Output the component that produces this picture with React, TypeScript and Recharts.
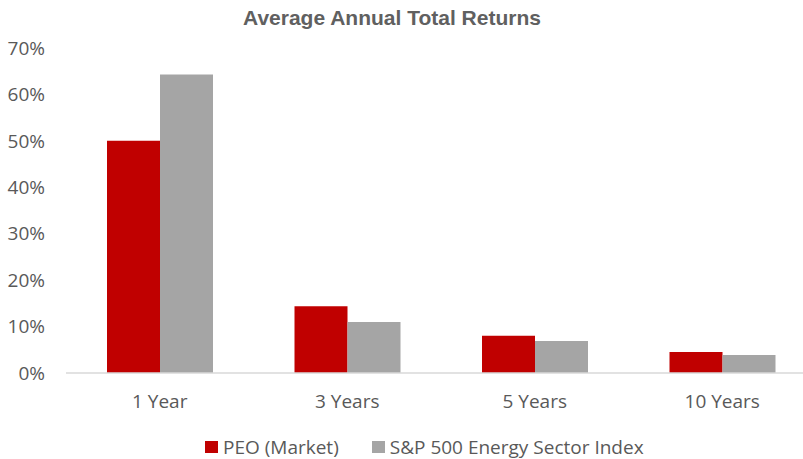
import React from "react";
import { BarChart, Bar, XAxis, YAxis, Legend } from "recharts";

const periods = ["1 Year", "3 Years", "5 Years", "10 Years"];
const peoMarket = [50.0, 14.4, 8.0, 4.5];
const spEnergy = [64.3, 11.0, 6.9, 3.9];
const yTicks = [0, 10, 20, 30, 40, 50, 60, 70];

const RED = "#C00000";
const GRAY = "#A5A5A5";
const TEXT = "#595959";
const FONT = "'Open Sans', 'Noto Sans', sans-serif";

const data = periods.map((p, i) => ({
  period: p,
  peo: peoMarket[i],
  sp: spEnergy[i],
}));

const legendItems = [
  { label: "PEO (Market)", color: RED },
  { label: "S&P 500 Energy Sector Index", color: GRAY },
];

function ChartLegend() {
  return (
    <div
      style={{
        height: 30,
        width: 803,
        paddingTop: 5,
        paddingLeft: 205,
        boxSizing: "border-box",
        display: "flex",
        gap: 33,
        fontFamily: FONT,
        fontSize: 19,
        lineHeight: "22px",
        color: TEXT,
      }}
    >
      {legendItems.map((it) => (
        <div key={it.label} style={{ display: "flex", alignItems: "center" }}>
          <span
            style={{
              display: "inline-block",
              width: 13,
              height: 12,
              background: it.color,
              marginRight: 5,
            }}
          />
          <span style={{ whiteSpace: "nowrap" }}>{it.label}</span>
        </div>
      ))}
    </div>
  );
}

export default function App() {
  return (
    <div
      style={{
        position: "absolute",
        left: 0,
        top: 0,
        width: 803,
        height: 459,
        overflow: "hidden",
        background: "#fff",
      }}
    >
      <div
        style={{
          position: "absolute",
          top: 6,
          left: 243,
          whiteSpace: "nowrap",
          fontFamily: "'Liberation Sans', Arial, sans-serif",
          fontWeight: "bold",
          fontSize: 21,
          color: "#606060",
        }}
      >
        Average Annual Total Returns
      </div>
      <BarChart
        width={830}
        height={459}
        data={data}
        margin={{ top: 48, right: 14, left: 0, bottom: 0 }}
        barGap={0}
        barSize={53}
      >
        <YAxis
          width={66}
          domain={[0, 70]}
          ticks={yTicks}
          tickFormatter={(v: number) => `${v}%`}
          axisLine={false}
          tickLine={false}
          tickSize={0}
          tickMargin={21}
          tick={{ fill: TEXT, fontSize: 19, fontFamily: FONT }}
        />
        <XAxis
          dataKey="period"
          height={56}
          tickLine={false}
          tickSize={0}
          tickMargin={22}
          axisLine={{ stroke: "#D9D9D9", strokeWidth: 1.5 }}
          tick={{ fill: TEXT, fontSize: 19, fontFamily: FONT }}
        />
        <Legend verticalAlign="bottom" content={() => <ChartLegend />} />
        <Bar dataKey="peo" fill={RED} isAnimationActive={false} />
        <Bar dataKey="sp" fill={GRAY} isAnimationActive={false} />
      </BarChart>
    </div>
  );
}
